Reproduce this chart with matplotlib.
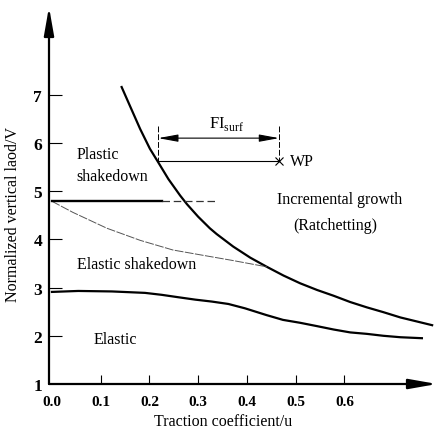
import matplotlib
matplotlib.use("Agg")
import matplotlib.pyplot as plt

plt.rcParams["font.family"] = ["Liberation Serif", "DejaVu Serif"]
plt.rcParams["mathtext.fontset"] = "custom"
plt.rcParams["mathtext.rm"] = "Liberation Serif"

# ratchetting boundary (upper thick curve)
upper_x = [0.143, 0.160, 0.181, 0.201, 0.218, 0.239, 0.263, 0.277, 0.300, 0.324, 0.338,
           0.372, 0.407, 0.441, 0.475, 0.509, 0.544, 0.578, 0.612, 0.646, 0.680, 0.715, 0.780]
upper_y = [7.16, 6.77, 6.29, 5.88, 5.60, 5.25, 4.91, 4.73, 4.47, 4.23, 4.11,
           3.85, 3.62, 3.43, 3.25, 3.09, 2.95, 2.83, 2.70, 2.59, 2.49, 2.38, 2.22]

# elastic limit (lower thick curve)
lower_x = [0.0, 0.054, 0.123, 0.191, 0.225, 0.259, 0.294, 0.328, 0.362, 0.396, 0.440,
           0.474, 0.509, 0.544, 0.578, 0.612, 0.646, 0.680, 0.715, 0.759]
lower_y = [2.91, 2.93, 2.92, 2.89, 2.85, 2.80, 2.75, 2.71, 2.66, 2.57, 2.43,
           2.33, 2.27, 2.20, 2.13, 2.07, 2.04, 2.00, 1.97, 1.95]

# shakedown limit (thin curve)
shake_x = [0.0, 0.043, 0.113, 0.181, 0.248, 0.304, 0.372, 0.441]
shake_y = [4.79, 4.56, 4.23, 3.98, 3.78, 3.68, 3.56, 3.43]

plastic_level = 4.8
plastic_end = 0.226
plastic_dash_end = 0.339

fi_left, fi_right = 0.218, 0.466
fi_arrow_y = 6.10
wp_y = 5.63

xticks = [0.0, 0.1, 0.2, 0.3, 0.4, 0.5, 0.6]
xlabels = ["0.0", "0.1", "0.2", "0.3", "0.4", "0.5", "0.6"]
yticks = [1, 2, 3, 4, 5, 6, 7]

fig = plt.figure(figsize=(4.38, 4.35), dpi=100)
ax = fig.add_axes([49 / 438, 50 / 435, 388 / 438, 377 / 435])
ax.set_xlim(-0.006, 0.79)
ax.set_ylim(1, 8.82)

for s in ax.spines.values():
    s.set_visible(False)
ax.annotate("", xy=(1, 0), xytext=(0, 0), xycoords="axes fraction",
            arrowprops=dict(arrowstyle="-|>,head_length=1.7,head_width=0.3",
                            lw=1.6, color="k", shrinkA=0, shrinkB=0, mutation_scale=10))
ax.annotate("", xy=(0, 1), xytext=(0, 0), xycoords="axes fraction",
            arrowprops=dict(arrowstyle="-|>,head_length=1.7,head_width=0.3",
                            lw=1.6, color="k", shrinkA=0, shrinkB=0, mutation_scale=10))

ax.set_xticks(xticks)
ax.set_xticklabels(xlabels, fontsize=11, fontweight="bold")
ax.set_yticks(yticks)
ax.set_yticklabels([str(v) for v in yticks], fontsize=12.5, fontweight="bold")
ax.tick_params(axis="x", direction="in", length=6.5, width=0.8, pad=8)
ax.tick_params(axis="y", direction="in", length=9.4, width=0.8, pad=5)
ax.xaxis.get_major_ticks()[0].tick1line.set_visible(False)
ax.yaxis.get_major_ticks()[0].tick1line.set_visible(False)

# curves
ax.plot(upper_x, upper_y, color="k", lw=1.6, solid_joinstyle="round")
ax.plot(lower_x, lower_y, color="k", lw=1.6, solid_joinstyle="round")
ax.plot(shake_x, shake_y, color="#555555", lw=0.7, linestyle=(0, (9, 1.5)))
ax.plot([0, plastic_end], [plastic_level, plastic_level], color="k", lw=1.7)
ax.plot([plastic_end, plastic_dash_end], [plastic_level, plastic_level],
        color="#333333", lw=0.9, linestyle=(0, (6, 3)))

# FI_surf annotation
for xv in (fi_left, fi_right):
    ax.plot([xv, xv], [6.35, 5.62], color="k", lw=0.7, linestyle=(0, (6, 2)))
ax.annotate("", xy=(fi_left, fi_arrow_y), xytext=(fi_right, fi_arrow_y),
            arrowprops=dict(arrowstyle="<|-|>,head_length=1.2,head_width=0.22",
                            lw=0.8, color="k", shrinkA=0, shrinkB=0, mutation_scale=10))
ax.plot([fi_left, fi_right], [wp_y, wp_y], color="k", lw=0.8)
ax.plot([fi_right], [wp_y], marker="x", color="k", ms=6, mew=0.8)
ax.text(0.322, 6.22, r"FI$_{\rm surf}$", fontsize=12, ha="left", va="bottom")
ax.text(0.489, wp_y, "WP", fontsize=11.5, ha="left", va="center")

# region labels
ax.text(0.051, 5.77, "Plastic", fontsize=11.5, ha="left", va="center")
ax.text(0.051, 5.32, "shakedown", fontsize=11.5, ha="left", va="center")
ax.text(0.591, 4.84, "Incremental growth", fontsize=11.5, ha="center", va="center")
ax.text(0.581, 4.30, "(Ratchetting)", fontsize=11.5, ha="center", va="center")
ax.text(0.051, 3.49, "Elastic shakedown", fontsize=11.5, ha="left", va="center")
ax.text(0.086, 1.93, "Elastic", fontsize=11.5, ha="left", va="center")

fig.text(223 / 438, 1 - 422 / 435, "Traction coefficient/u", fontsize=11.5,
         ha="center", va="center")
fig.text(13 / 438, 1 - 215 / 435, "Normalized vertical laod/V", fontsize=11.5,
         ha="center", va="center", rotation=90)

fig.savefig("out.png", dpi=100)
